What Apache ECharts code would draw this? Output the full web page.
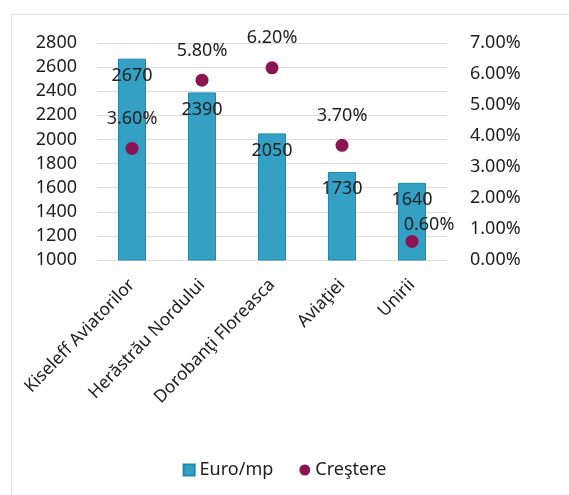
<!DOCTYPE html>
<html><head><meta charset="utf-8">
<script src="https://cdn.jsdelivr.net/npm/echarts@6/dist/echarts.min.js"></script>
<style>
html,body{margin:0;padding:0;background:#fff;width:569px;height:495px;overflow:hidden}
#frame{position:absolute;left:11px;top:14px;width:600px;height:520px;border:1px solid #e2e2e2}
#c{position:absolute;left:0;top:0;width:569px;height:495px}
</style></head>
<body><div id="frame"></div><div id="c"></div>
<script>
var categories = ['Kiseleff Aviatorilor', 'Herăstrău Nordului', 'Dorobanţi Floreasca', 'Aviaţiei', 'Unirii'];
var euroPerMp = [2670, 2390, 2050, 1730, 1640];
var crestere = [3.6, 5.8, 6.2, 3.7, 0.6];
var seriesNames = ['Euro/mp', 'Creştere'];

var FONT = 'Noto Sans';
var TXT = '#1e1e1e';
var chart = echarts.init(document.getElementById('c'));
var scatterData = crestere.map(function (v, i) {
  if (i === 4) return { value: v, label: { offset: [17, 13] } };
  return v;
});
chart.setOption({
  animation: false,
  textStyle: { fontFamily: FONT },
  grid: { left: 97, right: 122, top: 43, bottom: 235 },
  legend: {
    top: 456, left: 'center', itemWidth: 11, itemHeight: 11, itemGap: 26,
    textStyle: { fontFamily: FONT, fontSize: 18, color: TXT },
    data: [{ name: seriesNames[0], icon: 'rect' }, { name: seriesNames[1], icon: 'circle' }]
  },
  xAxis: {
    type: 'category', data: categories,
    axisLine: { show: false }, axisTick: { show: false },
    axisLabel: { rotate: 46, margin: 22, fontFamily: FONT, fontSize: 17.5, color: TXT, interval: 0 }
  },
  yAxis: [{
    type: 'value', min: 1000, max: 2800, interval: 200,
    axisLine: { show: false }, axisTick: { show: false },
    axisLabel: { margin: 20, fontFamily: FONT, fontSize: 18, color: TXT,
      formatter: function (v) { return String(v); } },
    splitLine: { lineStyle: { color: '#dcdcdc', width: 1 } }
  }, {
    type: 'value', min: 0, max: 7, interval: 1,
    axisLine: { show: false }, axisTick: { show: false },
    axisLabel: { margin: 23, fontFamily: FONT, fontSize: 18, color: TXT,
      formatter: function (v) { return v.toFixed(2) + '%'; } },
    splitLine: { show: false }
  }],
  series: [{
    name: seriesNames[0], type: 'bar', data: euroPerMp, barWidth: 28, yAxisIndex: 0,
    itemStyle: { color: '#33A0C4', borderColor: '#1F88AE', borderWidth: 1 },
    label: { show: true, position: 'insideTop', distance: 8, fontFamily: FONT, fontSize: 18,
      fontWeight: 'normal', color: TXT }
  }, {
    name: seriesNames[1], type: 'scatter', data: scatterData, yAxisIndex: 1,
    symbol: 'circle', symbolSize: 13,
    itemStyle: { color: '#8A1552', opacity: 1 },
    label: { show: true, position: 'top', distance: 14, fontFamily: FONT, fontSize: 18,
      color: TXT, opacity: 1,
      formatter: function (p) { return p.value.toFixed(2) + '%'; } }
  }]
});
</script></body></html>
